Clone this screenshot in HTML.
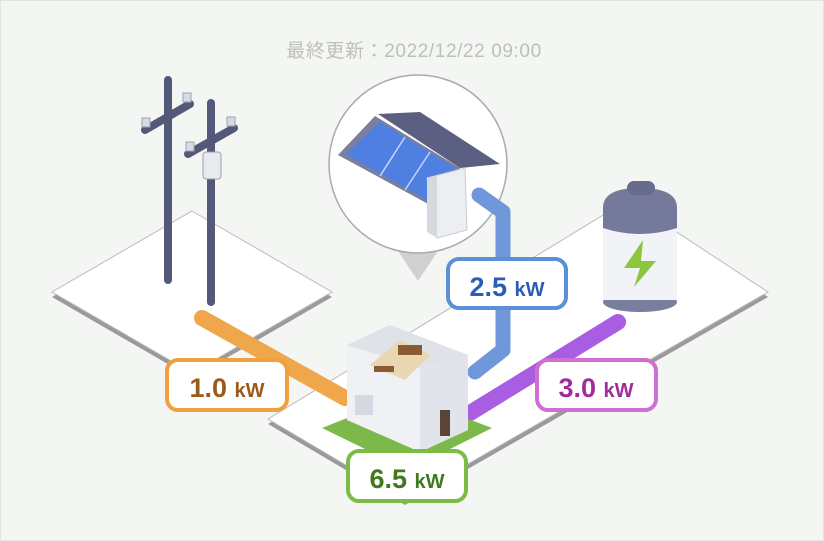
<!DOCTYPE html>
<html><head><meta charset="utf-8"><style>
html,body{margin:0;padding:0;background:#f4f6f3;}
svg{display:block}
text{font-family:"Liberation Sans","Noto Sans CJK JP",sans-serif}
</style></head><body>
<svg width="824" height="541" viewBox="0 0 824 541" xmlns="http://www.w3.org/2000/svg">
<rect x="0.5" y="0.5" width="823" height="540" fill="#f4f6f3" stroke="#e2e4e2"/>
<text x="414" y="57" text-anchor="middle" font-size="19" letter-spacing="0.6" fill="#bdbfbd">最終更新：2022/12/22 09:00</text>

<!-- left platform -->
<polygon points="192,216 332,297 192,378 52,297" fill="#9a9a9a"/>
<polygon points="192,211 332,292 192,373 52,292" fill="#fff" stroke="#bbb" stroke-width="1"/>
<!-- big platform -->
<polygon points="628,205 768,297 405,505 268,424" fill="#9a9a9a"/>
<polygon points="628,200 768,292 405,500 268,419" fill="#fff" stroke="#bbb" stroke-width="1"/>

<!-- poles -->
<g stroke="#545879" stroke-linecap="round">
<line x1="168" y1="80" x2="168" y2="280" stroke-width="8"/>
<line x1="145" y1="130" x2="190" y2="104" stroke-width="8"/>
<line x1="211" y1="103" x2="211" y2="302" stroke-width="8"/>
<line x1="188" y1="154" x2="234" y2="128" stroke-width="8"/>
</g>
<g fill="#d8dbe3" stroke="#9aa0b0" stroke-width="1">
<rect x="142" y="118" width="8" height="9"/><rect x="183" y="93" width="8" height="9"/>
<rect x="186" y="142" width="8" height="9"/><rect x="227" y="117" width="8" height="9"/>
<rect x="203" y="152" width="18" height="27" rx="3" fill="#e8eaee"/>
</g>

<!-- callout -->
<polygon points="396,248 440,248 418,281" fill="#cfd0cf"/>
<circle cx="418" cy="164" r="89" fill="#fff" stroke="#aaa" stroke-width="1.5"/>
<polygon points="378,114 420,112 500,164 460,168" fill="#5b5f82"/>
<polygon points="375,116 460,168 430,205 338,155" fill="#7a7fa0"/>
<polygon points="380,122 455,168 427,200 346,154" fill="#4f7fe0"/>
<g stroke="#c8d6f5" stroke-width="1.5"><line x1="405" y1="137" x2="380" y2="176"/><line x1="430" y1="152" x2="405" y2="190"/></g>
<polygon points="427,178 465,168 467,230 437,238" fill="#eceef2" stroke="#c9ccd4"/>
<polygon points="427,178 437,176 437,238 427,232" fill="#d5d8de"/>

<!-- pipes -->
<polyline points="479,195 503,212 503,350 475,372" fill="none" stroke="#6f97da" stroke-width="15" stroke-linecap="round" stroke-linejoin="round"/>
<line x1="202" y1="318" x2="345" y2="398" stroke="#f0a64a" stroke-width="16" stroke-linecap="round"/>
<line x1="618" y1="322" x2="470" y2="413" stroke="#a95de2" stroke-width="16" stroke-linecap="round"/>

<!-- battery -->
<rect x="603" y="215" width="74" height="88" fill="#f2f3f6"/>
<ellipse cx="640" cy="302" rx="37" ry="10" fill="#7a7e9e"/>
<rect x="603" y="228" width="74" height="72" fill="#f2f3f7"/>
<path d="M603,228 L603,208 Q603,188 640,188 Q677,188 677,208 L677,228 Q640,240 603,228 Z" fill="#767a9a"/>
<rect x="627" y="181" width="28" height="14" rx="7" fill="#676b8c"/>
<polygon points="643,240 624,268 640,268 634,287 656,261 641,261" fill="#8cc63f"/>

<!-- house -->
<polygon points="322,428 405,395 492,428 408,470" fill="#7cb84a"/>
<polygon points="347,345 390,325 468,355 468,430 420,452 347,420" fill="#eff1f5"/>
<polygon points="420,368 468,355 468,430 420,452" fill="#e1e4ea"/>
<polygon points="347,345 390,325 468,355 420,368" fill="#dfe2e7"/>
<polygon points="370,365 400,340 430,355 405,380" fill="#e8d7b0"/>
<rect x="398" y="345" width="24" height="10" fill="#8a5a33"/>
<rect x="374" y="366" width="20" height="6" fill="#8a5a33"/>
<rect x="355" y="395" width="18" height="20" fill="#d5d9e2"/>
<rect x="440" y="410" width="10" height="26" fill="#5a4535"/>

<!-- labels -->
<g font-weight="bold">
<rect x="448" y="259" width="118" height="49" rx="11" fill="#fff" stroke="#5b8fd6" stroke-width="4"/>
<text x="507" y="296" text-anchor="middle" fill="#2a5db8" font-size="27">2.5 <tspan font-size="20">kW</tspan></text>
<rect x="167" y="360" width="120" height="50" rx="11" fill="#fff" stroke="#f0a03e" stroke-width="4"/>
<text x="227" y="397" text-anchor="middle" fill="#9a5a1a" font-size="27">1.0 <tspan font-size="20">kW</tspan></text>
<rect x="537" y="360" width="119" height="50" rx="11" fill="#fff" stroke="#d16fd0" stroke-width="4"/>
<text x="596" y="397" text-anchor="middle" fill="#a02c9c" font-size="27">3.0 <tspan font-size="20">kW</tspan></text>
<rect x="348" y="451" width="118" height="50" rx="11" fill="#fff" stroke="#7cbc44" stroke-width="4"/>
<text x="407" y="488" text-anchor="middle" fill="#3f7a1f" font-size="27">6.5 <tspan font-size="20">kW</tspan></text>
</g>
</svg>
</body></html>
